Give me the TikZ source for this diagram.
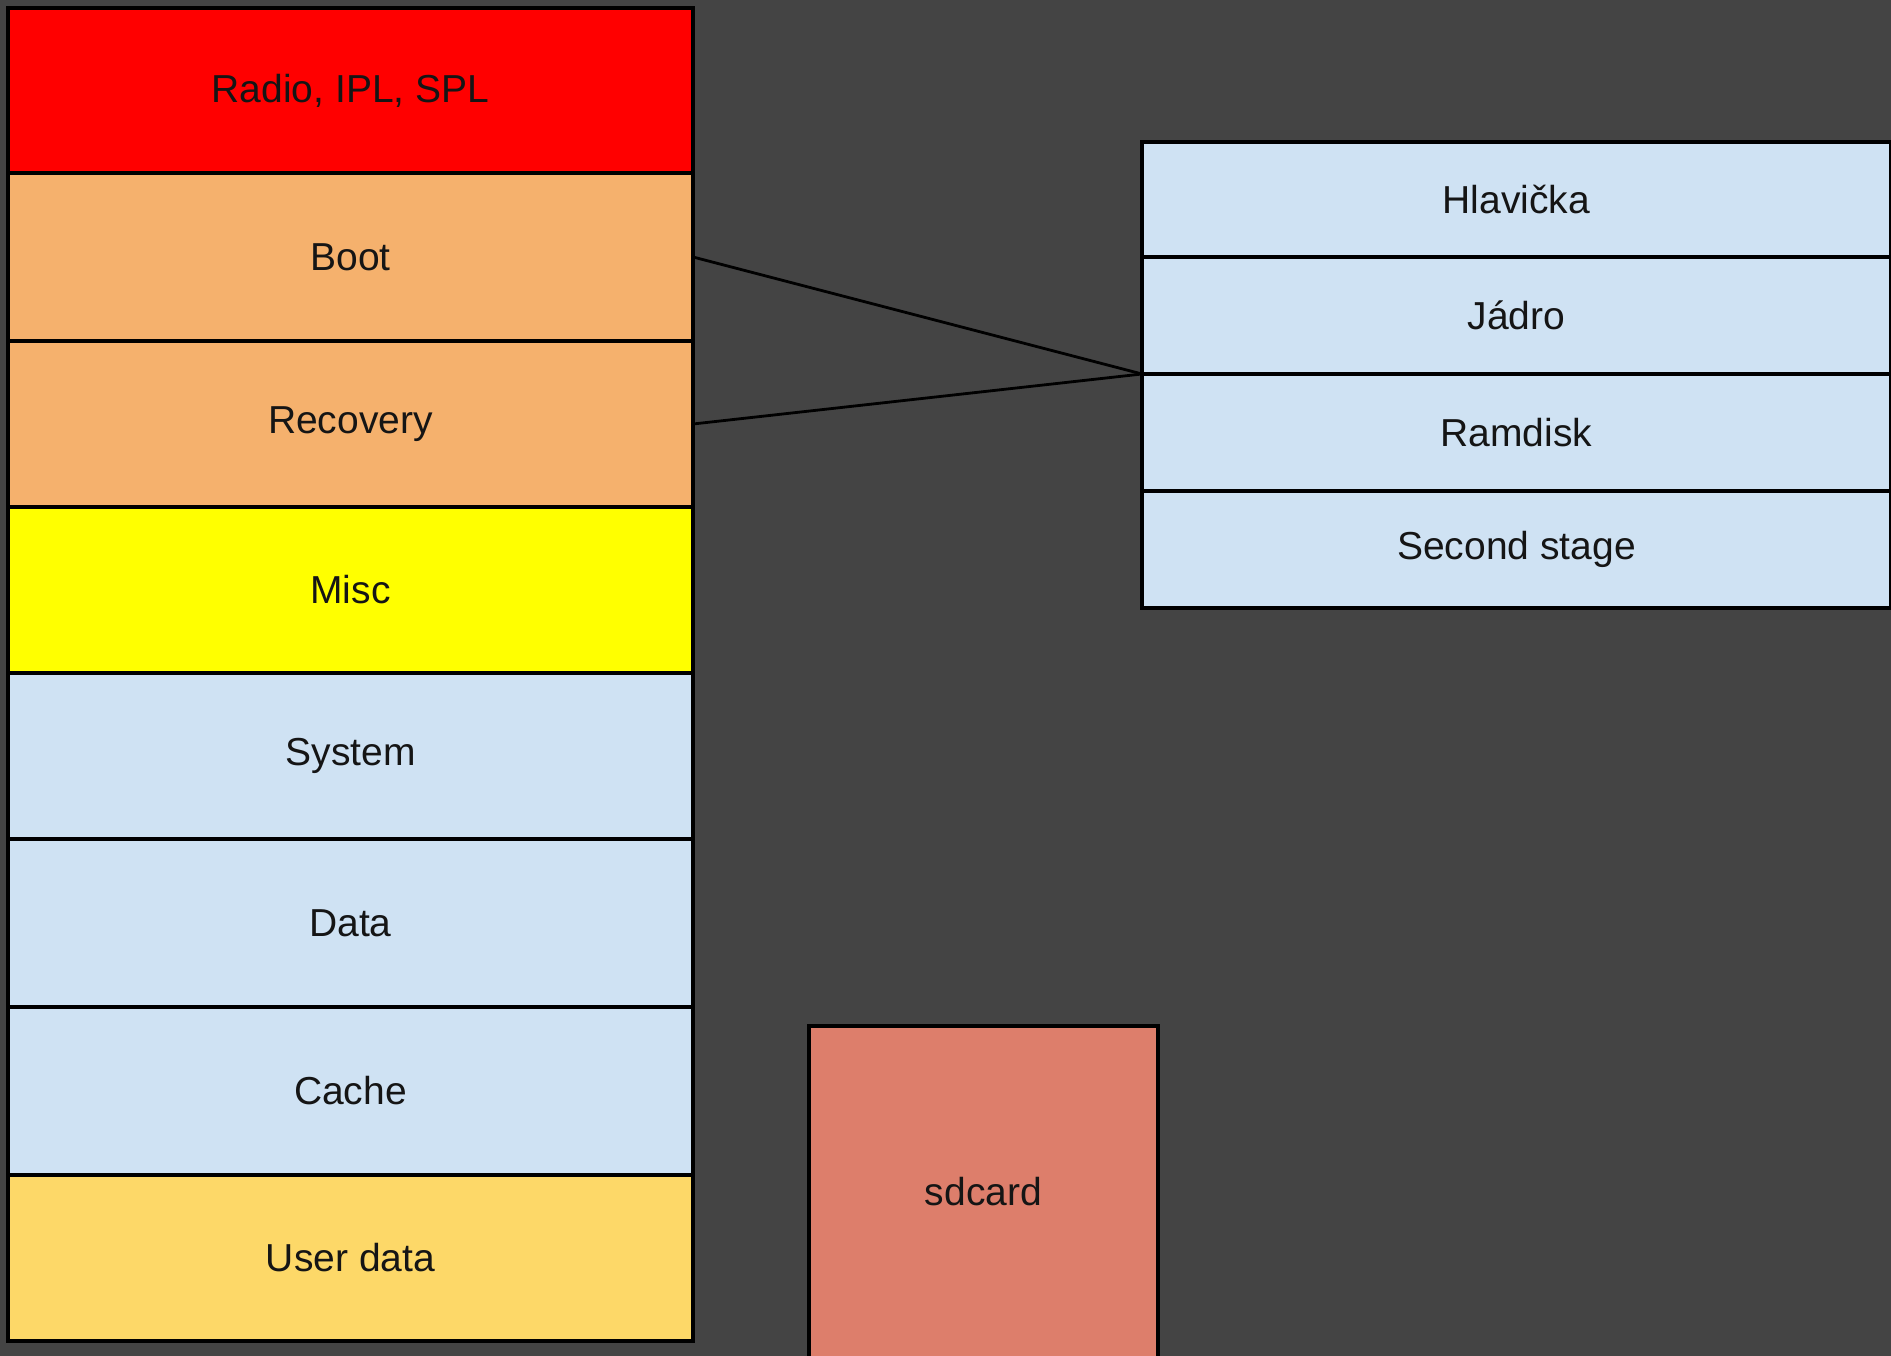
\documentclass[tikz,border=0pt]{standalone}
\usepackage{fontspec}
\setmainfont{Liberation Sans}
\definecolor{bgc}{HTML}{444444}
\definecolor{redc}{HTML}{FF0000}
\definecolor{orangec}{HTML}{F5B16D}
\definecolor{yellowc}{HTML}{FFFF00}
\definecolor{bluec}{HTML}{CFE2F3}
\definecolor{goldc}{HTML}{FDD868}
\definecolor{sdc}{HTML}{DD7E6B}
\definecolor{textc}{HTML}{151515}
\tikzset{
  part/.style={draw=black, line width=3.4pt, inner sep=0pt, outer sep=0pt,
    text=textc, font=\fontsize{39}{47}\selectfont},
  leftpart/.style={part, minimum width=685pt},
  rightpart/.style={part, minimum width=749pt},
  link/.style={draw=black, line width=2.8pt}
}
\begin{document}
\begin{tikzpicture}[x=1pt,y=-1pt]
\fill[bgc] (0,0) rectangle (1891,1356);
\useasboundingbox (0,0) rectangle (1891,1356);
% left column
\node[leftpart, fill=redc, minimum height=165pt] (radio) at (350.5,90.5) {Radio, IPL, SPL};
\node[leftpart, fill=orangec, minimum height=168pt] (boot) at (350.5,257) {Boot};
\node[leftpart, fill=orangec, minimum height=166pt] (recovery) at (350.5,424) {Recovery};
\node[leftpart, fill=yellowc, minimum height=166pt] (misc) at (350.5,590) {Misc};
\node[leftpart, fill=bluec, minimum height=166pt] (system) at (350.5,756) {System};
\node[leftpart, fill=bluec, minimum height=168pt] (data) at (350.5,923) {Data};
\node[leftpart, fill=bluec, minimum height=168pt] (cache) at (350.5,1091) {Cache};
\node[leftpart, fill=goldc, minimum height=166pt] (user) at (350.5,1258) {User data};
% right column
\node[rightpart, fill=bluec, minimum height=115pt] (hlav) at (1516.5,199.5) {Hlavička};
\node[rightpart, fill=bluec, minimum height=117pt] (jadro) at (1516.5,315.5) {Jádro};
\node[rightpart, fill=bluec, minimum height=117pt] (ramdisk) at (1516.5,432.5) {Ramdisk};
\node[rightpart, fill=bluec, minimum height=117pt] (second) at (1516.5,549.5) {Second stage};
% sdcard
\node[part, fill=sdc, minimum width=349pt, minimum height=332pt] (sdcard) at (983.5,1192) {sdcard};
% connectors
\draw[link] (boot.east) -- (jadro.south west);
\draw[link] (recovery.east) -- (jadro.south west);
\end{tikzpicture}
\end{document}
